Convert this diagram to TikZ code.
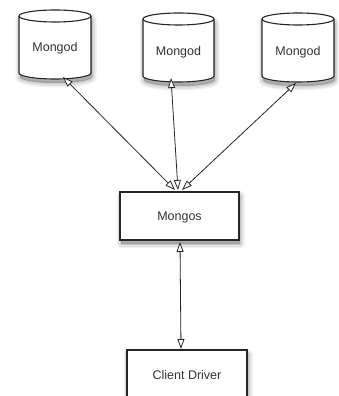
\documentclass[tikz,border=0pt]{standalone}
\usepackage{fontspec}
\setmainfont{Liberation Sans}
\usetikzlibrary{arrows.meta}
\tikzset{
  outline/.style={draw=black!85, line width=1.1pt, fill=white},
  lbl/.style={inner sep=0pt, font=\fontsize{12.5}{15}\selectfont, text=black!80},
  link/.style={draw=black!85, line width=0.8pt,
    {Triangle[open, length=10pt, width=7pt, fill=white]}-{Triangle[open, length=10pt, width=7pt, fill=white]}},
  shadowpart/.style={draw=black, fill=black, opacity=0.06, line join=round}
}
% silhouette of a cylinder: x1, x2, top centre y, bottom centre y, ry
\newcommand{\cylpath}[5]{%
  (#1,#4) arc[start angle=180, end angle=360, x radius={(#2-#1)/2}, y radius=#5]
  -- (#2,#3) arc[start angle=0, end angle=180, x radius={(#2-#1)/2}, y radius=#5] -- cycle}
\newcommand{\mycyl}[5]{%
  \begin{scope}[shift={(1,-4)}]
    \foreach \w in {9,6,3,0.5}{\path[shadowpart, line width=\w pt] \cylpath{#1}{#2}{#3}{#4}{#5};}
  \end{scope}
  \path[outline] \cylpath{#1}{#2}{#3}{#4}{#5};
  \draw[draw=black!85, line width=1.1pt] (#1,#3) arc[start angle=180, end angle=360, x radius={(#2-#1)/2}, y radius=#5];
}
\begin{document}
\begin{tikzpicture}[x=1pt, y=1pt]
\useasboundingbox (0,0) rectangle (338,396);
\clip (0,0) rectangle (338,396);
\fill[white] (0,0) rectangle (338,396);

% cylinders
\mycyl{19}{91}{380}{323}{6}
\mycyl{143}{214}{377}{320}{6}
\mycyl{262}{334}{377}{320}{6}
\node[lbl] (m1) at (55,348) {Mongod};
\node[lbl] (m2) at (178.5,344) {Mongod};
\node[lbl] (m3) at (298,344) {Mongod};

% boxes with shadows
\begin{scope}[shift={(1,-4)}]
  \foreach \w in {9,6,3,0.5}{\path[shadowpart, line width=\w pt] (120,156) rectangle (239,204);}
  \foreach \w in {9,6,3,0.5}{\path[shadowpart, line width=\w pt] (127,-20) rectangle (247,46);}
\end{scope}
\path[outline] (120,156) rectangle (239,204);
\path[outline] (127,-20) rectangle (247,46);
\node[lbl] (mongos) at (179.5,179) {Mongos};
\node[lbl] (client) at (187,21) {Client Driver};

% connector end points
\coordinate (m1b) at (63,319);
\coordinate (m2b) at (171,318);
\coordinate (m3b) at (296,313);
\coordinate (s1) at (175,206);
\coordinate (s2) at (178,206);
\coordinate (s3) at (182,206);
\coordinate (sb) at (180,154);
\coordinate (ct) at (181,47);

\path[link] (m1b) -- (s1);
\path[link] (m2b) -- (s2);
\path[link] (m3b) -- (s3);
\path[link] (sb) -- (ct);
\end{tikzpicture}
\end{document}
